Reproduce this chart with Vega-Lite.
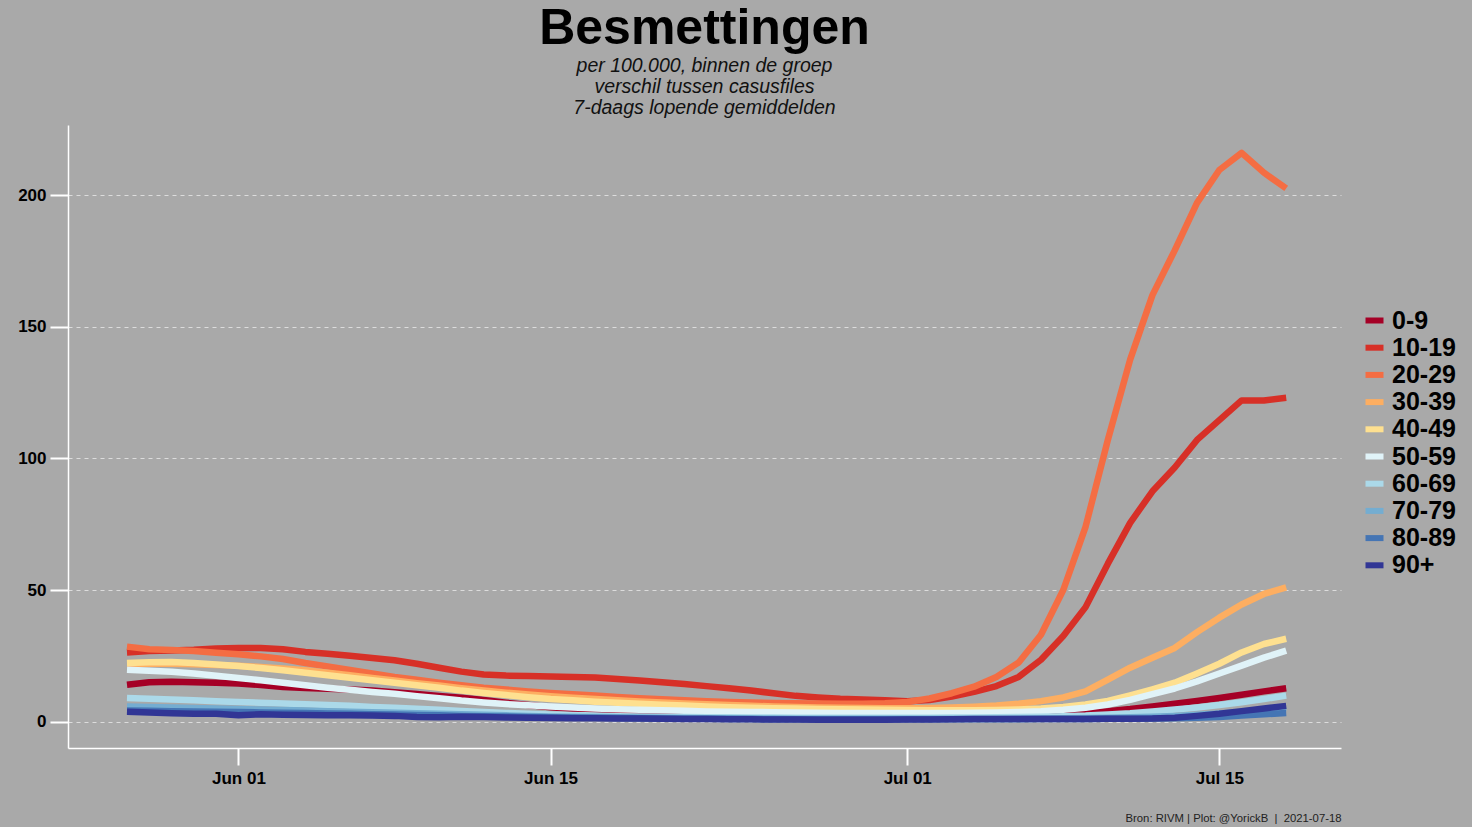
{
"$schema": "https://vega.github.io/schema/vega-lite/v6.json",
"width": 1273, "height": 623,
"autosize": {"type": "none"},
"padding": {"left": 68, "top": 125, "right": 131, "bottom": 79},
"background": "#A9A9A9",
"config": {"view": {"stroke": null}, "font": "Liberation Sans"},
"title": {"text": "Besmettingen", "subtitle": ["per 100.000, binnen de groep", "verschil tussen casusfiles", "7-daags lopende gemiddelden"], "anchor": "middle", "frame": "group", "fontSize": 50, "fontWeight": "bold", "color": "black", "font": "Liberation Sans", "subtitleFont": "Liberation Sans", "subtitleFontSize": 19.5, "subtitleFontStyle": "italic", "subtitleColor": "#111111", "subtitleLineHeight": 21, "subtitlePadding": 3, "offset": 8},
"datasets": {"rows": [
{"d":"2021-05-27","g":"0-9","v":14},{"d":"2021-05-28","g":"0-9","v":15},{"d":"2021-05-29","g":"0-9","v":15.2},{"d":"2021-05-30","g":"0-9","v":15},{"d":"2021-05-31","g":"0-9","v":14.8},{"d":"2021-06-01","g":"0-9","v":14.5},{"d":"2021-06-02","g":"0-9","v":13.9},{"d":"2021-06-03","g":"0-9","v":13.2},{"d":"2021-06-04","g":"0-9","v":12.8},{"d":"2021-06-05","g":"0-9","v":12.5},{"d":"2021-06-06","g":"0-9","v":12.2},{"d":"2021-06-07","g":"0-9","v":11.8},{"d":"2021-06-08","g":"0-9","v":11.2},{"d":"2021-06-09","g":"0-9","v":10.5},{"d":"2021-06-10","g":"0-9","v":9.8},{"d":"2021-06-11","g":"0-9","v":9.1},{"d":"2021-06-12","g":"0-9","v":8.2},{"d":"2021-06-13","g":"0-9","v":7.2},{"d":"2021-06-14","g":"0-9","v":6.3},{"d":"2021-06-15","g":"0-9","v":5.5},{"d":"2021-06-16","g":"0-9","v":4.9},{"d":"2021-06-17","g":"0-9","v":4.4},{"d":"2021-06-18","g":"0-9","v":4.0},{"d":"2021-06-19","g":"0-9","v":3.7},{"d":"2021-06-20","g":"0-9","v":3.4},{"d":"2021-06-21","g":"0-9","v":3.2},{"d":"2021-06-22","g":"0-9","v":3.0},{"d":"2021-06-23","g":"0-9","v":2.8},{"d":"2021-06-24","g":"0-9","v":2.6},{"d":"2021-06-25","g":"0-9","v":2.5},{"d":"2021-06-26","g":"0-9","v":2.4},{"d":"2021-06-27","g":"0-9","v":2.3},{"d":"2021-06-28","g":"0-9","v":2.2},{"d":"2021-06-29","g":"0-9","v":2.2},{"d":"2021-06-30","g":"0-9","v":2.1},{"d":"2021-07-01","g":"0-9","v":2.1},{"d":"2021-07-02","g":"0-9","v":2.1},{"d":"2021-07-03","g":"0-9","v":2.2},{"d":"2021-07-04","g":"0-9","v":2.2},{"d":"2021-07-05","g":"0-9","v":2.3},{"d":"2021-07-06","g":"0-9","v":2.5},{"d":"2021-07-07","g":"0-9","v":2.7},{"d":"2021-07-08","g":"0-9","v":3.0},{"d":"2021-07-09","g":"0-9","v":3.4},{"d":"2021-07-10","g":"0-9","v":4.0},{"d":"2021-07-11","g":"0-9","v":4.8},{"d":"2021-07-12","g":"0-9","v":5.8},{"d":"2021-07-13","g":"0-9","v":6.8},{"d":"2021-07-14","g":"0-9","v":7.9},{"d":"2021-07-15","g":"0-9","v":9.0},{"d":"2021-07-16","g":"0-9","v":10.2},{"d":"2021-07-17","g":"0-9","v":11.5},{"d":"2021-07-18","g":"0-9","v":12.7},
{"d":"2021-05-27","g":"10-19","v":26.3},{"d":"2021-05-28","g":"10-19","v":26.8},{"d":"2021-05-29","g":"10-19","v":27},{"d":"2021-05-30","g":"10-19","v":27.3},{"d":"2021-05-31","g":"10-19","v":27.8},{"d":"2021-06-01","g":"10-19","v":28},{"d":"2021-06-02","g":"10-19","v":28},{"d":"2021-06-03","g":"10-19","v":27.5},{"d":"2021-06-04","g":"10-19","v":26.5},{"d":"2021-06-05","g":"10-19","v":25.8},{"d":"2021-06-06","g":"10-19","v":25},{"d":"2021-06-07","g":"10-19","v":24.2},{"d":"2021-06-08","g":"10-19","v":23.3},{"d":"2021-06-09","g":"10-19","v":22},{"d":"2021-06-10","g":"10-19","v":20.5},{"d":"2021-06-11","g":"10-19","v":19},{"d":"2021-06-12","g":"10-19","v":17.9},{"d":"2021-06-13","g":"10-19","v":17.5},{"d":"2021-06-14","g":"10-19","v":17.3},{"d":"2021-06-15","g":"10-19","v":17.2},{"d":"2021-06-16","g":"10-19","v":17},{"d":"2021-06-17","g":"10-19","v":16.8},{"d":"2021-06-18","g":"10-19","v":16.2},{"d":"2021-06-19","g":"10-19","v":15.6},{"d":"2021-06-20","g":"10-19","v":15},{"d":"2021-06-21","g":"10-19","v":14.3},{"d":"2021-06-22","g":"10-19","v":13.5},{"d":"2021-06-23","g":"10-19","v":12.7},{"d":"2021-06-24","g":"10-19","v":11.8},{"d":"2021-06-25","g":"10-19","v":10.8},{"d":"2021-06-26","g":"10-19","v":9.8},{"d":"2021-06-27","g":"10-19","v":9.2},{"d":"2021-06-28","g":"10-19","v":8.7},{"d":"2021-06-29","g":"10-19","v":8.4},{"d":"2021-06-30","g":"10-19","v":8.1},{"d":"2021-07-01","g":"10-19","v":7.8},{"d":"2021-07-02","g":"10-19","v":8.2},{"d":"2021-07-03","g":"10-19","v":9.5},{"d":"2021-07-04","g":"10-19","v":11.3},{"d":"2021-07-05","g":"10-19","v":13.5},{"d":"2021-07-06","g":"10-19","v":17},{"d":"2021-07-07","g":"10-19","v":23.5},{"d":"2021-07-08","g":"10-19","v":32.5},{"d":"2021-07-09","g":"10-19","v":43.5},{"d":"2021-07-10","g":"10-19","v":60},{"d":"2021-07-11","g":"10-19","v":75.5},{"d":"2021-07-12","g":"10-19","v":87.5},{"d":"2021-07-13","g":"10-19","v":96.5},{"d":"2021-07-14","g":"10-19","v":107},{"d":"2021-07-15","g":"10-19","v":114.5},{"d":"2021-07-16","g":"10-19","v":122},{"d":"2021-07-17","g":"10-19","v":122},{"d":"2021-07-18","g":"10-19","v":123},
{"d":"2021-05-27","g":"20-29","v":28.5},{"d":"2021-05-28","g":"20-29","v":27.5},{"d":"2021-05-29","g":"20-29","v":27.2},{"d":"2021-05-30","g":"20-29","v":26.8},{"d":"2021-05-31","g":"20-29","v":26.2},{"d":"2021-06-01","g":"20-29","v":25.6},{"d":"2021-06-02","g":"20-29","v":24.8},{"d":"2021-06-03","g":"20-29","v":23.8},{"d":"2021-06-04","g":"20-29","v":22.3},{"d":"2021-06-05","g":"20-29","v":21},{"d":"2021-06-06","g":"20-29","v":19.6},{"d":"2021-06-07","g":"20-29","v":18.3},{"d":"2021-06-08","g":"20-29","v":17},{"d":"2021-06-09","g":"20-29","v":15.9},{"d":"2021-06-10","g":"20-29","v":14.8},{"d":"2021-06-11","g":"20-29","v":13.8},{"d":"2021-06-12","g":"20-29","v":12.9},{"d":"2021-06-13","g":"20-29","v":12.2},{"d":"2021-06-14","g":"20-29","v":11.5},{"d":"2021-06-15","g":"20-29","v":10.9},{"d":"2021-06-16","g":"20-29","v":10.4},{"d":"2021-06-17","g":"20-29","v":9.9},{"d":"2021-06-18","g":"20-29","v":9.4},{"d":"2021-06-19","g":"20-29","v":8.9},{"d":"2021-06-20","g":"20-29","v":8.5},{"d":"2021-06-21","g":"20-29","v":8.1},{"d":"2021-06-22","g":"20-29","v":7.8},{"d":"2021-06-23","g":"20-29","v":7.5},{"d":"2021-06-24","g":"20-29","v":7.3},{"d":"2021-06-25","g":"20-29","v":7.1},{"d":"2021-06-26","g":"20-29","v":7.0},{"d":"2021-06-27","g":"20-29","v":6.9},{"d":"2021-06-28","g":"20-29","v":6.8},{"d":"2021-06-29","g":"20-29","v":6.8},{"d":"2021-06-30","g":"20-29","v":7.0},{"d":"2021-07-01","g":"20-29","v":7.5},{"d":"2021-07-02","g":"20-29","v":8.8},{"d":"2021-07-03","g":"20-29","v":10.8},{"d":"2021-07-04","g":"20-29","v":13.3},{"d":"2021-07-05","g":"20-29","v":17},{"d":"2021-07-06","g":"20-29","v":22.5},{"d":"2021-07-07","g":"20-29","v":33},{"d":"2021-07-08","g":"20-29","v":50},{"d":"2021-07-09","g":"20-29","v":74},{"d":"2021-07-10","g":"20-29","v":107},{"d":"2021-07-11","g":"20-29","v":137.5},{"d":"2021-07-12","g":"20-29","v":162},{"d":"2021-07-13","g":"20-29","v":179},{"d":"2021-07-14","g":"20-29","v":197},{"d":"2021-07-15","g":"20-29","v":209.5},{"d":"2021-07-16","g":"20-29","v":216},{"d":"2021-07-17","g":"20-29","v":208.5},{"d":"2021-07-18","g":"20-29","v":202.5},
{"d":"2021-05-27","g":"30-39","v":22},{"d":"2021-05-28","g":"30-39","v":22},{"d":"2021-05-29","g":"30-39","v":22},{"d":"2021-05-30","g":"30-39","v":21.8},{"d":"2021-05-31","g":"30-39","v":21.5},{"d":"2021-06-01","g":"30-39","v":21.2},{"d":"2021-06-02","g":"30-39","v":20.8},{"d":"2021-06-03","g":"30-39","v":20.2},{"d":"2021-06-04","g":"30-39","v":19.5},{"d":"2021-06-05","g":"30-39","v":18.6},{"d":"2021-06-06","g":"30-39","v":17.6},{"d":"2021-06-07","g":"30-39","v":16.6},{"d":"2021-06-08","g":"30-39","v":15.6},{"d":"2021-06-09","g":"30-39","v":14.6},{"d":"2021-06-10","g":"30-39","v":13.7},{"d":"2021-06-11","g":"30-39","v":12.7},{"d":"2021-06-12","g":"30-39","v":11.8},{"d":"2021-06-13","g":"30-39","v":11.0},{"d":"2021-06-14","g":"30-39","v":10.3},{"d":"2021-06-15","g":"30-39","v":9.7},{"d":"2021-06-16","g":"30-39","v":9.1},{"d":"2021-06-17","g":"30-39","v":8.6},{"d":"2021-06-18","g":"30-39","v":8.1},{"d":"2021-06-19","g":"30-39","v":7.7},{"d":"2021-06-20","g":"30-39","v":7.3},{"d":"2021-06-21","g":"30-39","v":6.9},{"d":"2021-06-22","g":"30-39","v":6.6},{"d":"2021-06-23","g":"30-39","v":6.3},{"d":"2021-06-24","g":"30-39","v":6.0},{"d":"2021-06-25","g":"30-39","v":5.8},{"d":"2021-06-26","g":"30-39","v":5.6},{"d":"2021-06-27","g":"30-39","v":5.4},{"d":"2021-06-28","g":"30-39","v":5.3},{"d":"2021-06-29","g":"30-39","v":5.2},{"d":"2021-06-30","g":"30-39","v":5.1},{"d":"2021-07-01","g":"30-39","v":5.1},{"d":"2021-07-02","g":"30-39","v":5.2},{"d":"2021-07-03","g":"30-39","v":5.4},{"d":"2021-07-04","g":"30-39","v":5.7},{"d":"2021-07-05","g":"30-39","v":6.1},{"d":"2021-07-06","g":"30-39","v":6.8},{"d":"2021-07-07","g":"30-39","v":7.8},{"d":"2021-07-08","g":"30-39","v":9.2},{"d":"2021-07-09","g":"30-39","v":11.5},{"d":"2021-07-10","g":"30-39","v":16},{"d":"2021-07-11","g":"30-39","v":20.5},{"d":"2021-07-12","g":"30-39","v":24.3},{"d":"2021-07-13","g":"30-39","v":28},{"d":"2021-07-14","g":"30-39","v":34},{"d":"2021-07-15","g":"30-39","v":39.5},{"d":"2021-07-16","g":"30-39","v":44.5},{"d":"2021-07-17","g":"30-39","v":48.5},{"d":"2021-07-18","g":"30-39","v":51},
{"d":"2021-05-27","g":"40-49","v":22.3},{"d":"2021-05-28","g":"40-49","v":22.6},{"d":"2021-05-29","g":"40-49","v":22.7},{"d":"2021-05-30","g":"40-49","v":22.3},{"d":"2021-05-31","g":"40-49","v":21.7},{"d":"2021-06-01","g":"40-49","v":21.1},{"d":"2021-06-02","g":"40-49","v":20.4},{"d":"2021-06-03","g":"40-49","v":19.5},{"d":"2021-06-04","g":"40-49","v":18.6},{"d":"2021-06-05","g":"40-49","v":17.6},{"d":"2021-06-06","g":"40-49","v":16.7},{"d":"2021-06-07","g":"40-49","v":15.7},{"d":"2021-06-08","g":"40-49","v":14.8},{"d":"2021-06-09","g":"40-49","v":13.8},{"d":"2021-06-10","g":"40-49","v":12.9},{"d":"2021-06-11","g":"40-49","v":11.8},{"d":"2021-06-12","g":"40-49","v":10.9},{"d":"2021-06-13","g":"40-49","v":10.1},{"d":"2021-06-14","g":"40-49","v":9.3},{"d":"2021-06-15","g":"40-49","v":8.6},{"d":"2021-06-16","g":"40-49","v":8.1},{"d":"2021-06-17","g":"40-49","v":7.6},{"d":"2021-06-18","g":"40-49","v":7.2},{"d":"2021-06-19","g":"40-49","v":6.8},{"d":"2021-06-20","g":"40-49","v":6.4},{"d":"2021-06-21","g":"40-49","v":6.1},{"d":"2021-06-22","g":"40-49","v":5.8},{"d":"2021-06-23","g":"40-49","v":5.5},{"d":"2021-06-24","g":"40-49","v":5.3},{"d":"2021-06-25","g":"40-49","v":5.1},{"d":"2021-06-26","g":"40-49","v":5.0},{"d":"2021-06-27","g":"40-49","v":4.8},{"d":"2021-06-28","g":"40-49","v":4.7},{"d":"2021-06-29","g":"40-49","v":4.6},{"d":"2021-06-30","g":"40-49","v":4.5},{"d":"2021-07-01","g":"40-49","v":4.4},{"d":"2021-07-02","g":"40-49","v":4.3},{"d":"2021-07-03","g":"40-49","v":4.3},{"d":"2021-07-04","g":"40-49","v":4.3},{"d":"2021-07-05","g":"40-49","v":4.4},{"d":"2021-07-06","g":"40-49","v":4.6},{"d":"2021-07-07","g":"40-49","v":5.0},{"d":"2021-07-08","g":"40-49","v":5.6},{"d":"2021-07-09","g":"40-49","v":6.5},{"d":"2021-07-10","g":"40-49","v":7.9},{"d":"2021-07-11","g":"40-49","v":10},{"d":"2021-07-12","g":"40-49","v":12.3},{"d":"2021-07-13","g":"40-49","v":14.8},{"d":"2021-07-14","g":"40-49","v":18.3},{"d":"2021-07-15","g":"40-49","v":22},{"d":"2021-07-16","g":"40-49","v":26.3},{"d":"2021-07-17","g":"40-49","v":29.5},{"d":"2021-07-18","g":"40-49","v":31.5},
{"d":"2021-05-27","g":"50-59","v":19.7},{"d":"2021-05-28","g":"50-59","v":19.3},{"d":"2021-05-29","g":"50-59","v":19.0},{"d":"2021-05-30","g":"50-59","v":18.3},{"d":"2021-05-31","g":"50-59","v":17.4},{"d":"2021-06-01","g":"50-59","v":16.6},{"d":"2021-06-02","g":"50-59","v":15.7},{"d":"2021-06-03","g":"50-59","v":14.8},{"d":"2021-06-04","g":"50-59","v":13.8},{"d":"2021-06-05","g":"50-59","v":12.9},{"d":"2021-06-06","g":"50-59","v":12.1},{"d":"2021-06-07","g":"50-59","v":11.3},{"d":"2021-06-08","g":"50-59","v":10.6},{"d":"2021-06-09","g":"50-59","v":9.7},{"d":"2021-06-10","g":"50-59","v":8.9},{"d":"2021-06-11","g":"50-59","v":8.0},{"d":"2021-06-12","g":"50-59","v":7.3},{"d":"2021-06-13","g":"50-59","v":6.7},{"d":"2021-06-14","g":"50-59","v":6.2},{"d":"2021-06-15","g":"50-59","v":5.8},{"d":"2021-06-16","g":"50-59","v":5.4},{"d":"2021-06-17","g":"50-59","v":5.0},{"d":"2021-06-18","g":"50-59","v":4.7},{"d":"2021-06-19","g":"50-59","v":4.5},{"d":"2021-06-20","g":"50-59","v":4.3},{"d":"2021-06-21","g":"50-59","v":4.1},{"d":"2021-06-22","g":"50-59","v":3.9},{"d":"2021-06-23","g":"50-59","v":3.8},{"d":"2021-06-24","g":"50-59","v":3.7},{"d":"2021-06-25","g":"50-59","v":3.6},{"d":"2021-06-26","g":"50-59","v":3.5},{"d":"2021-06-27","g":"50-59","v":3.4},{"d":"2021-06-28","g":"50-59","v":3.3},{"d":"2021-06-29","g":"50-59","v":3.3},{"d":"2021-06-30","g":"50-59","v":3.3},{"d":"2021-07-01","g":"50-59","v":3.3},{"d":"2021-07-02","g":"50-59","v":3.3},{"d":"2021-07-03","g":"50-59","v":3.3},{"d":"2021-07-04","g":"50-59","v":3.4},{"d":"2021-07-05","g":"50-59","v":3.5},{"d":"2021-07-06","g":"50-59","v":3.7},{"d":"2021-07-07","g":"50-59","v":4.0},{"d":"2021-07-08","g":"50-59","v":4.5},{"d":"2021-07-09","g":"50-59","v":5.3},{"d":"2021-07-10","g":"50-59","v":6.5},{"d":"2021-07-11","g":"50-59","v":8.3},{"d":"2021-07-12","g":"50-59","v":10.5},{"d":"2021-07-13","g":"50-59","v":12.6},{"d":"2021-07-14","g":"50-59","v":15.3},{"d":"2021-07-15","g":"50-59","v":18.3},{"d":"2021-07-16","g":"50-59","v":21.3},{"d":"2021-07-17","g":"50-59","v":24.3},{"d":"2021-07-18","g":"50-59","v":27},
{"d":"2021-05-27","g":"60-69","v":9.0},{"d":"2021-05-28","g":"60-69","v":8.7},{"d":"2021-05-29","g":"60-69","v":8.4},{"d":"2021-05-30","g":"60-69","v":8.1},{"d":"2021-05-31","g":"60-69","v":7.8},{"d":"2021-06-01","g":"60-69","v":7.5},{"d":"2021-06-02","g":"60-69","v":7.2},{"d":"2021-06-03","g":"60-69","v":6.9},{"d":"2021-06-04","g":"60-69","v":6.6},{"d":"2021-06-05","g":"60-69","v":6.3},{"d":"2021-06-06","g":"60-69","v":6.0},{"d":"2021-06-07","g":"60-69","v":5.6},{"d":"2021-06-08","g":"60-69","v":5.3},{"d":"2021-06-09","g":"60-69","v":4.9},{"d":"2021-06-10","g":"60-69","v":4.5},{"d":"2021-06-11","g":"60-69","v":4.1},{"d":"2021-06-12","g":"60-69","v":3.7},{"d":"2021-06-13","g":"60-69","v":3.3},{"d":"2021-06-14","g":"60-69","v":3.0},{"d":"2021-06-15","g":"60-69","v":2.7},{"d":"2021-06-16","g":"60-69","v":2.5},{"d":"2021-06-17","g":"60-69","v":2.3},{"d":"2021-06-18","g":"60-69","v":2.1},{"d":"2021-06-19","g":"60-69","v":2.0},{"d":"2021-06-20","g":"60-69","v":1.9},{"d":"2021-06-21","g":"60-69","v":1.8},{"d":"2021-06-22","g":"60-69","v":1.7},{"d":"2021-06-23","g":"60-69","v":1.7},{"d":"2021-06-24","g":"60-69","v":1.6},{"d":"2021-06-25","g":"60-69","v":1.6},{"d":"2021-06-26","g":"60-69","v":1.5},{"d":"2021-06-27","g":"60-69","v":1.5},{"d":"2021-06-28","g":"60-69","v":1.5},{"d":"2021-06-29","g":"60-69","v":1.5},{"d":"2021-06-30","g":"60-69","v":1.5},{"d":"2021-07-01","g":"60-69","v":1.5},{"d":"2021-07-02","g":"60-69","v":1.5},{"d":"2021-07-03","g":"60-69","v":1.6},{"d":"2021-07-04","g":"60-69","v":1.6},{"d":"2021-07-05","g":"60-69","v":1.7},{"d":"2021-07-06","g":"60-69","v":1.8},{"d":"2021-07-07","g":"60-69","v":1.9},{"d":"2021-07-08","g":"60-69","v":2.1},{"d":"2021-07-09","g":"60-69","v":2.3},{"d":"2021-07-10","g":"60-69","v":2.7},{"d":"2021-07-11","g":"60-69","v":3.2},{"d":"2021-07-12","g":"60-69","v":3.9},{"d":"2021-07-13","g":"60-69","v":4.6},{"d":"2021-07-14","g":"60-69","v":5.4},{"d":"2021-07-15","g":"60-69","v":6.3},{"d":"2021-07-16","g":"60-69","v":7.4},{"d":"2021-07-17","g":"60-69","v":8.6},{"d":"2021-07-18","g":"60-69","v":9.9},
{"d":"2021-05-27","g":"70-79","v":5.8},{"d":"2021-05-28","g":"70-79","v":5.6},{"d":"2021-05-29","g":"70-79","v":5.4},{"d":"2021-05-30","g":"70-79","v":5.2},{"d":"2021-05-31","g":"70-79","v":5.0},{"d":"2021-06-01","g":"70-79","v":4.8},{"d":"2021-06-02","g":"70-79","v":4.6},{"d":"2021-06-03","g":"70-79","v":4.4},{"d":"2021-06-04","g":"70-79","v":4.2},{"d":"2021-06-05","g":"70-79","v":4.0},{"d":"2021-06-06","g":"70-79","v":3.8},{"d":"2021-06-07","g":"70-79","v":3.6},{"d":"2021-06-08","g":"70-79","v":3.4},{"d":"2021-06-09","g":"70-79","v":3.2},{"d":"2021-06-10","g":"70-79","v":3.0},{"d":"2021-06-11","g":"70-79","v":2.8},{"d":"2021-06-12","g":"70-79","v":2.6},{"d":"2021-06-13","g":"70-79","v":2.4},{"d":"2021-06-14","g":"70-79","v":2.2},{"d":"2021-06-15","g":"70-79","v":2.0},{"d":"2021-06-16","g":"70-79","v":1.9},{"d":"2021-06-17","g":"70-79","v":1.8},{"d":"2021-06-18","g":"70-79","v":1.7},{"d":"2021-06-19","g":"70-79","v":1.6},{"d":"2021-06-20","g":"70-79","v":1.5},{"d":"2021-06-21","g":"70-79","v":1.4},{"d":"2021-06-22","g":"70-79","v":1.3},{"d":"2021-06-23","g":"70-79","v":1.3},{"d":"2021-06-24","g":"70-79","v":1.2},{"d":"2021-06-25","g":"70-79","v":1.2},{"d":"2021-06-26","g":"70-79","v":1.1},{"d":"2021-06-27","g":"70-79","v":1.1},{"d":"2021-06-28","g":"70-79","v":1.1},{"d":"2021-06-29","g":"70-79","v":1.1},{"d":"2021-06-30","g":"70-79","v":1.1},{"d":"2021-07-01","g":"70-79","v":1.1},{"d":"2021-07-02","g":"70-79","v":1.1},{"d":"2021-07-03","g":"70-79","v":1.1},{"d":"2021-07-04","g":"70-79","v":1.1},{"d":"2021-07-05","g":"70-79","v":1.1},{"d":"2021-07-06","g":"70-79","v":1.2},{"d":"2021-07-07","g":"70-79","v":1.2},{"d":"2021-07-08","g":"70-79","v":1.3},{"d":"2021-07-09","g":"70-79","v":1.4},{"d":"2021-07-10","g":"70-79","v":1.5},{"d":"2021-07-11","g":"70-79","v":1.7},{"d":"2021-07-12","g":"70-79","v":1.9},{"d":"2021-07-13","g":"70-79","v":2.2},{"d":"2021-07-14","g":"70-79","v":2.6},{"d":"2021-07-15","g":"70-79","v":3.1},{"d":"2021-07-16","g":"70-79","v":3.7},{"d":"2021-07-17","g":"70-79","v":4.4},{"d":"2021-07-18","g":"70-79","v":5.2},
{"d":"2021-05-27","g":"80-89","v":4.2},{"d":"2021-05-28","g":"80-89","v":4.1},{"d":"2021-05-29","g":"80-89","v":4.0},{"d":"2021-05-30","g":"80-89","v":3.9},{"d":"2021-05-31","g":"80-89","v":3.8},{"d":"2021-06-01","g":"80-89","v":3.7},{"d":"2021-06-02","g":"80-89","v":3.5},{"d":"2021-06-03","g":"80-89","v":3.4},{"d":"2021-06-04","g":"80-89","v":3.3},{"d":"2021-06-05","g":"80-89","v":3.1},{"d":"2021-06-06","g":"80-89","v":3.0},{"d":"2021-06-07","g":"80-89","v":2.8},{"d":"2021-06-08","g":"80-89","v":2.7},{"d":"2021-06-09","g":"80-89","v":2.5},{"d":"2021-06-10","g":"80-89","v":2.4},{"d":"2021-06-11","g":"80-89","v":2.2},{"d":"2021-06-12","g":"80-89","v":2.1},{"d":"2021-06-13","g":"80-89","v":2.0},{"d":"2021-06-14","g":"80-89","v":1.8},{"d":"2021-06-15","g":"80-89","v":1.7},{"d":"2021-06-16","g":"80-89","v":1.6},{"d":"2021-06-17","g":"80-89","v":1.5},{"d":"2021-06-18","g":"80-89","v":1.4},{"d":"2021-06-19","g":"80-89","v":1.3},{"d":"2021-06-20","g":"80-89","v":1.2},{"d":"2021-06-21","g":"80-89","v":1.1},{"d":"2021-06-22","g":"80-89","v":1.1},{"d":"2021-06-23","g":"80-89","v":1.0},{"d":"2021-06-24","g":"80-89","v":1.0},{"d":"2021-06-25","g":"80-89","v":0.9},{"d":"2021-06-26","g":"80-89","v":0.9},{"d":"2021-06-27","g":"80-89","v":0.9},{"d":"2021-06-28","g":"80-89","v":0.9},{"d":"2021-06-29","g":"80-89","v":0.9},{"d":"2021-06-30","g":"80-89","v":0.9},{"d":"2021-07-01","g":"80-89","v":0.9},{"d":"2021-07-02","g":"80-89","v":0.9},{"d":"2021-07-03","g":"80-89","v":0.9},{"d":"2021-07-04","g":"80-89","v":0.9},{"d":"2021-07-05","g":"80-89","v":0.9},{"d":"2021-07-06","g":"80-89","v":0.9},{"d":"2021-07-07","g":"80-89","v":1.0},{"d":"2021-07-08","g":"80-89","v":1.0},{"d":"2021-07-09","g":"80-89","v":1.0},{"d":"2021-07-10","g":"80-89","v":1.1},{"d":"2021-07-11","g":"80-89","v":1.1},{"d":"2021-07-12","g":"80-89","v":1.2},{"d":"2021-07-13","g":"80-89","v":1.3},{"d":"2021-07-14","g":"80-89","v":1.5},{"d":"2021-07-15","g":"80-89","v":1.8},{"d":"2021-07-16","g":"80-89","v":2.3},{"d":"2021-07-17","g":"80-89","v":2.8},{"d":"2021-07-18","g":"80-89","v":3.3},
{"d":"2021-05-27","g":"90+","v":3.8},{"d":"2021-05-28","g":"90+","v":3.5},{"d":"2021-05-29","g":"90+","v":3.2},{"d":"2021-05-30","g":"90+","v":3.0},{"d":"2021-05-31","g":"90+","v":3.0},{"d":"2021-06-01","g":"90+","v":2.4},{"d":"2021-06-02","g":"90+","v":2.8},{"d":"2021-06-03","g":"90+","v":2.6},{"d":"2021-06-04","g":"90+","v":2.5},{"d":"2021-06-05","g":"90+","v":2.4},{"d":"2021-06-06","g":"90+","v":2.4},{"d":"2021-06-07","g":"90+","v":2.3},{"d":"2021-06-08","g":"90+","v":2.2},{"d":"2021-06-09","g":"90+","v":1.8},{"d":"2021-06-10","g":"90+","v":1.7},{"d":"2021-06-11","g":"90+","v":1.9},{"d":"2021-06-12","g":"90+","v":1.8},{"d":"2021-06-13","g":"90+","v":1.6},{"d":"2021-06-14","g":"90+","v":1.5},{"d":"2021-06-15","g":"90+","v":1.4},{"d":"2021-06-16","g":"90+","v":1.3},{"d":"2021-06-17","g":"90+","v":1.3},{"d":"2021-06-18","g":"90+","v":1.2},{"d":"2021-06-19","g":"90+","v":1.2},{"d":"2021-06-20","g":"90+","v":1.1},{"d":"2021-06-21","g":"90+","v":1.0},{"d":"2021-06-22","g":"90+","v":1.0},{"d":"2021-06-23","g":"90+","v":0.9},{"d":"2021-06-24","g":"90+","v":0.9},{"d":"2021-06-25","g":"90+","v":0.8},{"d":"2021-06-26","g":"90+","v":0.8},{"d":"2021-06-27","g":"90+","v":0.7},{"d":"2021-06-28","g":"90+","v":0.7},{"d":"2021-06-29","g":"90+","v":0.7},{"d":"2021-06-30","g":"90+","v":0.7},{"d":"2021-07-01","g":"90+","v":0.8},{"d":"2021-07-02","g":"90+","v":0.8},{"d":"2021-07-03","g":"90+","v":0.9},{"d":"2021-07-04","g":"90+","v":1.0},{"d":"2021-07-05","g":"90+","v":1.0},{"d":"2021-07-06","g":"90+","v":1.0},{"d":"2021-07-07","g":"90+","v":1.0},{"d":"2021-07-08","g":"90+","v":1.0},{"d":"2021-07-09","g":"90+","v":1.0},{"d":"2021-07-10","g":"90+","v":1.1},{"d":"2021-07-11","g":"90+","v":1.1},{"d":"2021-07-12","g":"90+","v":1.2},{"d":"2021-07-13","g":"90+","v":1.5},{"d":"2021-07-14","g":"90+","v":2.2},{"d":"2021-07-15","g":"90+","v":3.0},{"d":"2021-07-16","g":"90+","v":4.0},{"d":"2021-07-17","g":"90+","v":5.0},{"d":"2021-07-18","g":"90+","v":6.0}
]},
"data": {"name": "rows"},
"mark": {"type": "line", "strokeWidth": 6.5, "strokeCap": "butt", "strokeJoin": "round"},
"encoding": {
  "x": {"field": "d", "type": "temporal",
    "scale": {"type": "utc", "domain": [{"year": 2021, "month": 5, "date": 24, "hours": 8, "minutes": 30, "utc": true}, {"year": 2021, "month": 7, "date": 20, "hours": 11, "utc": true}]},
    "axis": {"values": [{"year": 2021, "month": 6, "date": 1, "utc": true}, {"year": 2021, "month": 6, "date": 15, "utc": true}, {"year": 2021, "month": 7, "date": 1, "utc": true}, {"year": 2021, "month": 7, "date": 15, "utc": true}],
      "format": "%b %d", "grid": false,
      "title": "Bron: RIVM | Plot: @YorickB \u00a0|\u00a0 2021-07-18", "titleFont": "Liberation Sans", "titleFontSize": 11.3, "titleFontWeight": "normal", "titleColor": "#222222", "titleAnchor": "end", "titleAlign": "right", "titleX": 1273, "titleY": 73, "titleBaseline": "alphabetic",
      "labelFont": "Liberation Sans", "labelFontSize": 17, "labelFontWeight": "bold", "labelColor": "black", "labelPadding": 5,
      "tickSize": 17, "tickColor": "white", "tickWidth": 2, "domainColor": "white", "domainWidth": 1.5}},
  "y": {"field": "v", "type": "quantitative",
    "scale": {"domain": [-10, 226.6], "nice": false, "zero": false},
    "axis": {"values": [0, 50, 100, 150, 200], "title": null,
      "labelFont": "Liberation Sans", "labelFontSize": 17, "labelFontWeight": "bold", "labelColor": "black", "labelPadding": 4,
      "tickSize": 18, "tickColor": "white", "tickWidth": 2, "domainColor": "white", "domainWidth": 1.5,
      "grid": true, "gridColor": "#DCDCDC", "gridDash": [4, 4], "gridWidth": 1}},
  "color": {"field": "g", "type": "nominal",
    "scale": {"domain": ["0-9", "10-19", "20-29", "30-39", "40-49", "50-59", "60-69", "70-79", "80-89", "90+"], "range": ["#A50026", "#D73027", "#F46D43", "#FDAE61", "#FEE090", "#E0F3F8", "#ABD9E9", "#74ADD1", "#4575B4", "#313695"]},
    "legend": {"title": null, "orient": "none", "legendX": 1294, "legendY": 183, "symbolType": "stroke", "symbolStrokeWidth": 6, "symbolSize": 324, "labelFont": "Liberation Sans", "labelFontSize": 25, "labelFontWeight": "bold", "labelColor": "black", "rowPadding": 1.2, "labelOffset": 5, "padding": 0}}
}
}
